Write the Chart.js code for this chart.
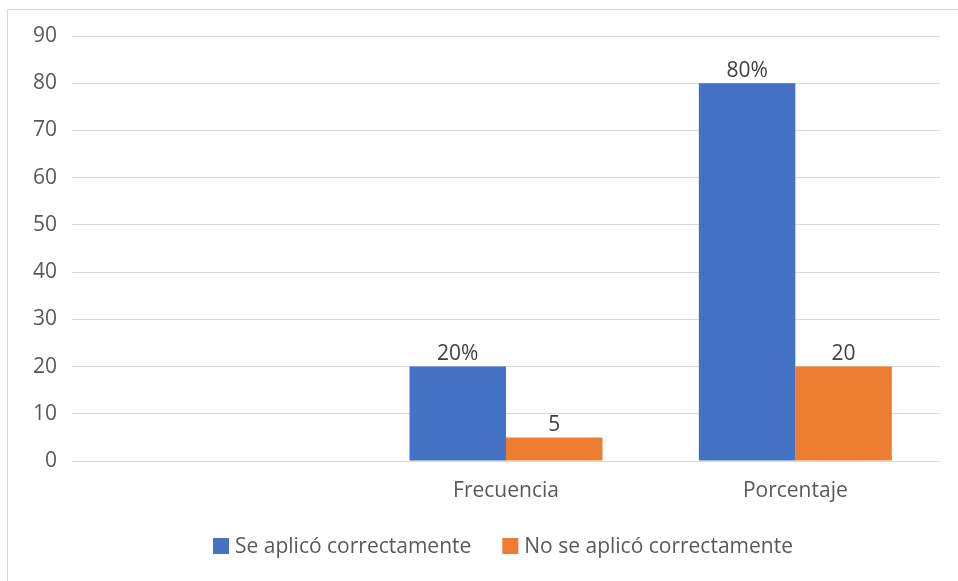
<!DOCTYPE html>
<html>
<head>
<meta charset="utf-8">
<script src="https://cdn.jsdelivr.net/npm/chart.js@4"></script>
<style>
  html, body { margin: 0; padding: 0; background: #ffffff; }
  #wrap { position: relative; width: 958px; height: 581px; overflow: hidden; }
  #frame { position: absolute; left: 7px; top: 9px; width: 1000px; height: 700px;
           border-left: 1px solid #d9d9d9; border-top: 1px solid #d9d9d9; }
  canvas { position: absolute; left: 0; top: 0; }
</style>
</head>
<body>
<div id="wrap">
  <div id="frame"></div>
  <canvas id="chart" width="958" height="581"></canvas>
</div>
<script>
// Categories along the x axis (the first slot is left empty)
const categories = ['', 'Frecuencia', 'Porcentaje'];

// Series values
const seriesNames = ['Se aplicó correctamente', 'No se aplicó correctamente'];
const aplicoValues = [null, 20, 80];
const noAplicoValues = [null, 5, 20];

// Text printed above each bar
const aplicoLabels = ['', '20%', '80%'];
const noAplicoLabels = ['', '5', '20'];

// Y axis ticks
const yTicks = [0, 10, 20, 30, 40, 50, 60, 70, 80, 90];

const FONT = "'Open Sans', 'Noto Sans', sans-serif";
const FONT_SIZE = 21;
const seriesLabels = [aplicoLabels, noAplicoLabels];

// Value labels above bars
const barLabels = {
  id: 'barLabels',
  afterDatasetsDraw(chart) {
    const ctx = chart.ctx;
    ctx.save();
    ctx.font = FONT_SIZE + 'px ' + FONT;
    ctx.fillStyle = '#404040';
    ctx.textAlign = 'center';
    ctx.textBaseline = 'bottom';
    chart.data.datasets.forEach((ds, di) => {
      const meta = chart.getDatasetMeta(di);
      meta.data.forEach((bar, i) => {
        const txt = seriesLabels[di][i];
        if (!txt || ds.data[i] == null) return;
        ctx.fillText(txt, bar.x, bar.y - 2);
      });
    });
    ctx.restore();
  }
};

// Legend drawn below the plot: square swatch followed closely by the name
const bottomLegend = {
  id: 'bottomLegend',
  afterDraw(chart) {
    const ctx = chart.ctx;
    ctx.save();
    ctx.font = FONT_SIZE + 'px ' + FONT;
    ctx.textBaseline = 'middle';
    ctx.textAlign = 'left';
    const box = 16, gap = 6, spacing = 31;
    const items = chart.data.datasets.map(ds => ({
      text: ds.label, color: ds.backgroundColor, w: ctx.measureText(ds.label).width
    }));
    let total = 0;
    items.forEach((it, i) => { total += box + gap + it.w + (i ? spacing : 0); });
    const area = chart.chartArea;
    let x = (area.left + area.right) / 2 - 3 - total / 2;
    const y = 546;
    items.forEach(it => {
      ctx.fillStyle = it.color;
      ctx.fillRect(x, y - box / 2, box, box);
      ctx.fillStyle = '#595959';
      ctx.fillText(it.text, x + box + gap, y + 1);
      x += box + gap + it.w + spacing;
    });
    ctx.restore();
  }
};

new Chart(document.getElementById('chart'), {
  type: 'bar',
  data: {
    labels: categories,
    datasets: [
      { label: seriesNames[0], data: aplicoValues, backgroundColor: '#4472C4' },
      { label: seriesNames[1], data: noAplicoValues, backgroundColor: '#ED7D31' }
    ]
  },
  options: {
    responsive: false,
    animation: false,
    devicePixelRatio: 1,
    layout: { padding: { left: 0, right: 18, top: 36, bottom: 0 } },
    datasets: { bar: { categoryPercentage: 0.667, barPercentage: 1.0 } },
    plugins: { legend: { display: false }, tooltip: { enabled: false } },
    scales: {
      x: {
        grid: { display: false, drawTicks: false },
        border: { display: false },
        ticks: { color: '#595959', font: { family: FONT, size: FONT_SIZE }, padding: 17 },
        afterFit(scale) { scale.height = 120; }
      },
      y: {
        min: 0, max: 90,
        afterBuildTicks(scale) { scale.ticks = yTicks.map(v => ({ value: v })); },
        grid: { color: '#d9d9d9', lineWidth: 1, drawTicks: false },
        border: { display: false },
        ticks: { color: '#595959', font: { family: FONT, size: FONT_SIZE }, padding: 15 },
        afterFit(scale) { scale.width = 72; }
      }
    }
  },
  plugins: [barLabels, bottomLegend]
});
</script>
</body>
</html>
